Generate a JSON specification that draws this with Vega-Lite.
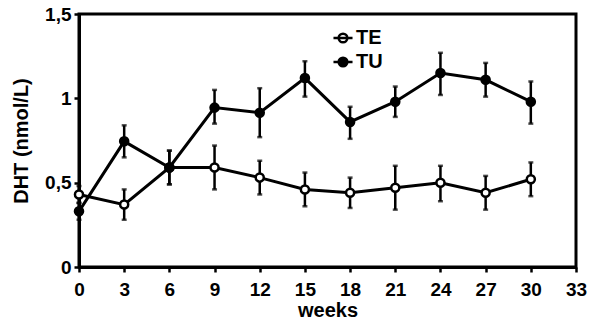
{
  "$schema": "https://vega.github.io/schema/vega-lite/v6.json",
  "autosize": {"type": "none"},
  "width": 497,
  "height": 253,
  "padding": {"left": 79, "top": 14, "right": 17, "bottom": 53},
  "background": "white",
  "config": {
    "font": "Liberation Sans",
    "view": {"stroke": "black", "strokeWidth": 3},
    "axis": {
      "grid": false,
      "domainColor": "black",
      "domainWidth": 3,
      "tickColor": "black",
      "tickWidth": 2.5,
      "tickSize": 5,
      "labelFont": "Liberation Sans",
      "labelFontWeight": "bold",
      "labelFontSize": 19,
      "labelColor": "black",
      "titleFont": "Liberation Sans",
      "titleFontWeight": "bold",
      "titleFontSize": 20,
      "titleColor": "black"
    }
  },
  "data": {
    "values": [
      {"week": 0, "group": "TE", "mean": 0.43, "lo": 0.38, "hi": 0.48},
      {"week": 3, "group": "TE", "mean": 0.37, "lo": 0.28, "hi": 0.46},
      {"week": 6, "group": "TE", "mean": 0.59, "lo": 0.49, "hi": 0.69},
      {"week": 9, "group": "TE", "mean": 0.59, "lo": 0.46, "hi": 0.72},
      {"week": 12, "group": "TE", "mean": 0.53, "lo": 0.43, "hi": 0.63},
      {"week": 15, "group": "TE", "mean": 0.46, "lo": 0.36, "hi": 0.56},
      {"week": 18, "group": "TE", "mean": 0.44, "lo": 0.35, "hi": 0.53},
      {"week": 21, "group": "TE", "mean": 0.47, "lo": 0.34, "hi": 0.6},
      {"week": 24, "group": "TE", "mean": 0.5, "lo": 0.39, "hi": 0.6},
      {"week": 27, "group": "TE", "mean": 0.44, "lo": 0.34, "hi": 0.54},
      {"week": 30, "group": "TE", "mean": 0.52, "lo": 0.42, "hi": 0.62},
      {"week": 0, "group": "TU", "mean": 0.33, "lo": 0.28, "hi": 0.38},
      {"week": 3, "group": "TU", "mean": 0.745, "lo": 0.65, "hi": 0.84},
      {"week": 6, "group": "TU", "mean": 0.59, "lo": 0.49, "hi": 0.69},
      {"week": 9, "group": "TU", "mean": 0.945, "lo": 0.85, "hi": 1.05},
      {"week": 12, "group": "TU", "mean": 0.915, "lo": 0.77, "hi": 1.06},
      {"week": 15, "group": "TU", "mean": 1.12, "lo": 1.01, "hi": 1.22},
      {"week": 18, "group": "TU", "mean": 0.86, "lo": 0.76, "hi": 0.95},
      {"week": 21, "group": "TU", "mean": 0.98, "lo": 0.89, "hi": 1.07},
      {"week": 24, "group": "TU", "mean": 1.15, "lo": 1.02, "hi": 1.27},
      {"week": 27, "group": "TU", "mean": 1.11, "lo": 1.01, "hi": 1.21},
      {"week": 30, "group": "TU", "mean": 0.98, "lo": 0.85, "hi": 1.1}
    ]
  },
  "encoding": {
    "x": {
      "field": "week",
      "type": "quantitative",
      "scale": {"domain": [0, 33], "nice": false},
      "axis": {"values": [0, 3, 6, 9, 12, 15, 18, 21, 24, 27, 30, 33], "title": "weeks", "labelPadding": 8, "titlePadding": 1, "labelFlush": false}
    }
  },
  "layer": [
    {
      "mark": {"type": "rule", "color": "black", "strokeWidth": 2.5},
      "encoding": {
        "y": {
          "field": "lo",
          "type": "quantitative",
          "scale": {"domain": [0, 1.5], "nice": false},
          "axis": {
            "values": [0, 0.5, 1, 1.5],
            "title": "DHT (nmol/L)",
            "labelExpr": "replace(format(datum.value, ''), '.', ',')",
            "labelPadding": 3,
            "titlePadding": 13
          }
        },
        "y2": {"field": "hi"}
      }
    },
    {
      "mark": {"type": "tick", "color": "black", "orient": "horizontal", "size": 5, "thickness": 2.5},
      "encoding": {"y": {"field": "lo", "type": "quantitative"}}
    },
    {
      "mark": {"type": "tick", "color": "black", "orient": "horizontal", "size": 5, "thickness": 2.5},
      "encoding": {"y": {"field": "hi", "type": "quantitative"}}
    },
    {
      "mark": {"type": "line", "color": "black", "strokeWidth": 3},
      "encoding": {
        "y": {"field": "mean", "type": "quantitative"},
        "detail": {"field": "group"}
      }
    },
    {
      "mark": {"type": "point", "filled": true, "stroke": "black", "strokeWidth": 2.5, "opacity": 1, "shape": "circle"},
      "encoding": {
        "y": {"field": "mean", "type": "quantitative"},
        "size": {"value": 65},
        "fill": {
          "field": "group",
          "type": "nominal",
          "scale": {"domain": ["TE", "TU"], "range": ["white", "black"]},
          "legend": {
            "title": null,
            "orient": "none",
            "legendX": 254,
            "legendY": 14,
            "symbolType": "M-1.1,0 L1.1,0 M-0.5,0 A0.5,0.5 0 1,1 0.5,0 A0.5,0.5 0 1,1 -0.5,0 Z",
            "symbolSize": 300,
            "symbolStrokeColor": "black",
            "symbolStrokeWidth": 2.5,
            "symbolOpacity": 1,
            "labelFont": "Liberation Sans",
            "labelFontWeight": "bold",
            "labelFontSize": 20,
            "labelColor": "black",
            "rowPadding": 4,
            "labelOffset": 3
          }
        }
      }
    }
  ]
}
